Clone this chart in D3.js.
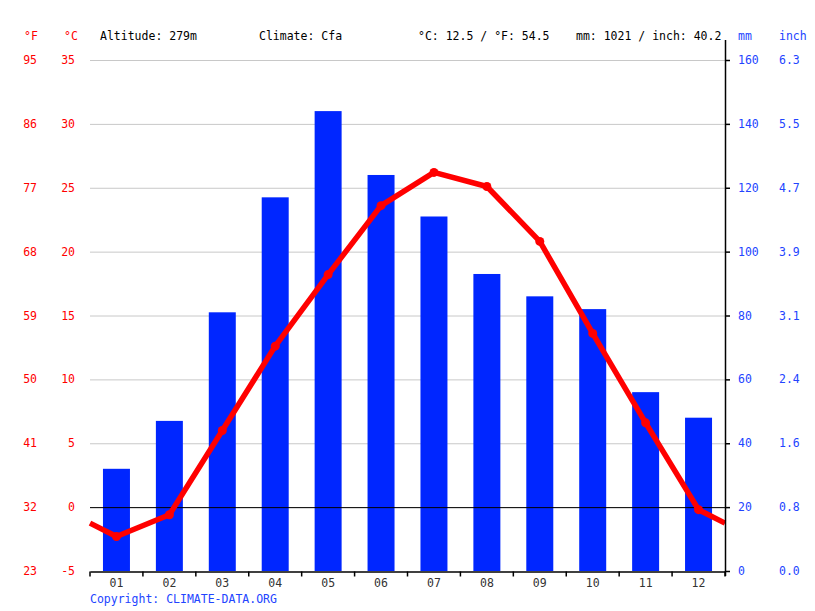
<!DOCTYPE html>
<html lang="en">
<head>
<meta charset="UTF-8">
<title>Climate chart</title>
<script src="https://d3js.org/d3.v7.min.js"></script>
<style>
  body { margin: 0; background: #fff; }
  text { font-family: "DejaVu Sans Mono", monospace; font-size: 11.5px; }
</style>
</head>
<body>
<svg width="815" height="611"></svg>
<script>

// data
const months = ["01", "02", "03", "04", "05", "06", "07", "08", "09", "10", "11", "12"];
const precipMm = [32, 47, 81, 117, 144, 124, 111, 93, 86, 82, 56, 48];
const tempC = [-2.3, -0.6, 6.0, 12.6, 18.2, 23.6, 26.2, 25.1, 20.8, 13.6, 6.6, -0.2];
const celsiusTicks = [-5, 0, 5, 10, 15, 20, 25, 30, 35];
const fahrenheitLabels = ["23", "32", "41", "50", "59", "68", "77", "86", "95"];
const mmTicks = [0, 20, 40, 60, 80, 100, 120, 140, 160];
const inchLabels = ["0.0", "0.8", "1.6", "2.4", "3.1", "3.9", "4.7", "5.5", "6.3"];

const svg = d3.select("svg");
const plotL = 90, plotR = 725, plotT = 60, plotB = 571;

const x = d3.scaleBand().domain(months).range([plotL, plotR]);
const yT = d3.scaleLinear().domain([-5, 35]).range([plotB, plotT]);
const yP = d3.scaleLinear().domain([0, 160]).range([plotB, plotT]);

const red = "#ff0000", blue = "#0026ff", blueText = "#2244ff";

// gridlines
svg.append("g")
    .selectAll("line")
    .data(celsiusTicks.filter(d => d !== -5))
    .enter().append("line")
    .attr("x1", plotL).attr("x2", plotR)
    .attr("y1", d => yT(d) + 0.5).attr("y2", d => yT(d) + 0.5)
    .attr("stroke", "#c8c8c8");

// bars
svg.append("g")
    .selectAll("rect")
    .data(precipMm)
    .enter().append("rect")
    .attr("x", (d, i) => x(months[i]) + x.bandwidth() * 0.245)
    .attr("width", x.bandwidth() * 0.51)
    .attr("y", d => yP(d))
    .attr("height", d => plotB - yP(d))
    .attr("fill", blue);

// zero line
svg.append("line")
    .attr("x1", plotL).attr("x2", plotR)
    .attr("y1", yT(0) + 0.5).attr("y2", yT(0) + 0.5)
    .attr("stroke", "#000");

// temperature line, wrapped to the edges with the Dec/Jan midpoint
const edge = (tempC[0] + tempC[11]) / 2;
const pts = [[plotL, yT(edge)]]
    .concat(tempC.map((d, i) => [x(months[i]) + x.bandwidth() / 2, yT(d)]))
    .concat([[plotR, yT(edge)]]);

svg.append("path")
    .attr("d", d3.line()(pts))
    .attr("fill", "none")
    .attr("stroke", red)
    .attr("stroke-width", 5.5)
    .attr("stroke-linejoin", "round");

svg.append("g")
    .selectAll("circle")
    .data(tempC)
    .enter().append("circle")
    .attr("cx", (d, i) => x(months[i]) + x.bandwidth() / 2)
    .attr("cy", d => yT(d))
    .attr("r", 4.5)
    .attr("fill", red);

// bottom axis
const xAxis = d3.axisBottom(x).tickSize(0).tickPadding(7);
const gx = svg.append("g").attr("transform", `translate(0,${plotB + 0.5})`).call(xAxis);
gx.select(".domain").attr("stroke", "#000").attr("stroke-width", 1.5);
gx.selectAll("text").attr("font-size", 11.5).attr("fill", "#333").attr("font-family", "DejaVu Sans Mono, monospace");
gx.selectAll(".sep")
    .data(d3.range(13))
    .enter().append("line")
    .attr("x1", i => plotL + i * x.bandwidth()).attr("x2", i => plotL + i * x.bandwidth())
    .attr("y1", 0).attr("y2", 5)
    .attr("stroke", "#000").attr("stroke-width", 1.5);

// right axis
svg.append("line")
    .attr("x1", plotR + 0.5).attr("x2", plotR + 0.5)
    .attr("y1", 40).attr("y2", plotB + 5)
    .attr("stroke", "#000").attr("stroke-width", 1.5);
svg.append("g")
    .selectAll("line")
    .data(mmTicks)
    .enter().append("line")
    .attr("x1", plotR).attr("x2", plotR + 5)
    .attr("y1", d => yP(d) + 0.5).attr("y2", d => yP(d) + 0.5)
    .attr("stroke", "#000").attr("stroke-width", 1.5);

// axis labels
const lab = (xPos, anchor, color, vals, scale, ticks) =>
    svg.append("g").selectAll("text")
        .data(ticks)
        .enter().append("text")
        .attr("x", xPos)
        .attr("y", d => scale(d) + 4)
        .attr("text-anchor", anchor)
        .attr("fill", color)
        .text((d, i) => vals[i]);

lab(37, "end", red, fahrenheitLabels, yT, celsiusTicks);
lab(75, "end", red, celsiusTicks.map(String), yT, celsiusTicks);
lab(738, "start", blueText, mmTicks.map(String), yP, mmTicks);
lab(779, "start", blueText, inchLabels, yP, mmTicks);

// header
const header = [
    [24, "°F", red], [64, "°C", red],
    [100, "Altitude: 279m", "#000"], [259, "Climate: Cfa", "#000"],
    [418, "°C: 12.5 / °F: 54.5", "#000"], [576, "mm: 1021 / inch: 40.2", "#000"],
    [738, "mm", blueText], [779, "inch", blueText]
];
svg.append("g").selectAll("text")
    .data(header)
    .enter().append("text")
    .attr("x", d => d[0]).attr("y", 40)
    .attr("fill", d => d[2])
    .text(d => d[1]);

svg.append("text")
    .attr("x", 90).attr("y", 603)
    .attr("fill", blueText)
    .text("Copyright: CLIMATE-DATA.ORG");

</script>
</body>
</html>
